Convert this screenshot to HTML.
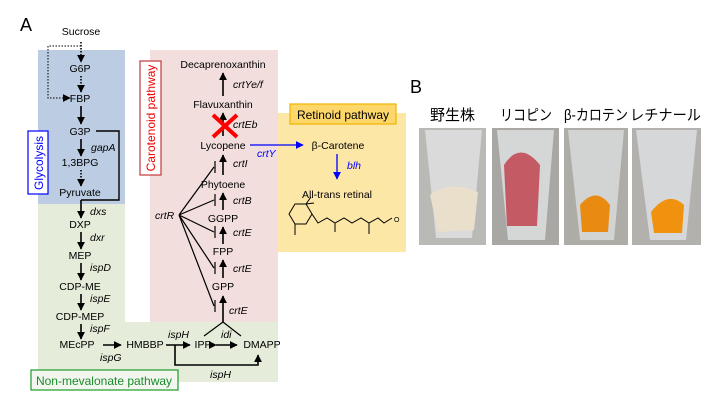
<!DOCTYPE html>
<html><head><meta charset="utf-8"><style>
body{margin:0;background:#fff;}
svg{display:block;font-family:"Liberation Sans","Noto Sans CJK JP",sans-serif;}
</style></head><body>
<svg width="720" height="400" viewBox="0 0 720 400">
<defs>
<marker id="a" viewBox="0 0 10 10" refX="9" refY="5" markerWidth="8" markerHeight="8" markerUnits="userSpaceOnUse" orient="auto"><path d="M0,0L10,5L0,10z" fill="#000"/></marker>
<marker id="b" viewBox="0 0 10 10" refX="9" refY="5" markerWidth="8" markerHeight="8" markerUnits="userSpaceOnUse" orient="auto"><path d="M0,0L10,5L0,10z" fill="#00f"/></marker>
</defs>
<rect x="38" y="50" width="87" height="154" fill="#bccde3"/>
<path d="M38,204H125V322H278V382H38Z" fill="#e5ecd9"/>
<rect x="150" y="50" width="128" height="272" fill="#f2dedd"/>
<rect x="278" y="113" width="128" height="139" fill="#fde7a7"/>
<rect x="28" y="131" width="20" height="63" fill="#fff" stroke="#0000ff" stroke-width="1.2"/>
<text transform="translate(43,163) rotate(-90)" font-size="12" fill="#0000ff" text-anchor="middle">Glycolysis</text>
<rect x="140" y="61" width="21" height="114" fill="#fff" stroke="#c0393b" stroke-width="1.2"/>
<text transform="translate(155,118) rotate(-90)" font-size="12" fill="#e00" text-anchor="middle">Carotenoid pathway</text>
<rect x="290" y="104" width="106" height="20" fill="#fdd769" stroke="#f0b400" stroke-width="1.2"/>
<text x="343" y="119" font-size="12" text-anchor="middle">Retinoid pathway</text>
<rect x="31" y="370" width="147" height="20" fill="#f3f6ee" stroke="#1a9c2a" stroke-width="1.2"/>
<text x="104" y="385" font-size="12" fill="#1a8c2a" text-anchor="middle">Non-mevalonate pathway</text>
<text x="20" y="31" font-size="18">A</text>
<text x="410" y="93" font-size="18">B</text>

<g font-size="10.5" text-anchor="middle">
<text x="81" y="35">Sucrose</text>
<text x="80" y="72">G6P</text>
<text x="80" y="102">FBP</text>
<text x="80" y="135">G3P</text>
<text x="80" y="166">1,3BPG</text>
<text x="80" y="196">Pyruvate</text>
<text x="80" y="228">DXP</text>
<text x="80" y="259">MEP</text>
<text x="80" y="290">CDP-ME</text>
<text x="80" y="320">CDP-MEP</text>
<text x="77" y="348">MEcPP</text>
<text x="145" y="348">HMBBP</text>
<text x="203" y="348">IPP</text>
<text x="262" y="348">DMAPP</text>
<text x="223" y="68">Decaprenoxanthin</text>
<text x="223" y="108">Flavuxanthin</text>
<text x="223" y="149">Lycopene</text>
<text x="223" y="188">Phytoene</text>
<text x="223" y="222">GGPP</text>
<text x="223" y="255">FPP</text>
<text x="223" y="290">GPP</text>
<text x="338" y="149">β-Carotene</text>
<text x="337" y="198">All-trans retinal</text>
</g>
<g font-size="10.5" font-style="italic">
<text x="91" y="151">gapA</text>
<text x="90" y="215">dxs</text>
<text x="90" y="241">dxr</text>
<text x="90" y="271">ispD</text>
<text x="90" y="302">ispE</text>
<text x="90" y="332">ispF</text>
<text x="100" y="361">ispG</text>
<text x="168" y="338">ispH</text>
<text x="221" y="338">idi</text>
<text x="210" y="378">ispH</text>
<text x="233" y="88">crtYe/f</text>
<text x="233" y="128">crtEb</text>
<text x="233" y="167">crtI</text>
<text x="233" y="204">crtB</text>
<text x="233" y="236">crtE</text>
<text x="233" y="272">crtE</text>
<text x="229" y="314">crtE</text>
<text x="155" y="219">crtR</text>
<text x="257" y="157" fill="#00f">crtY</text>
<text x="347" y="169" fill="#00f">blh</text>
</g>

<g stroke="#000" stroke-width="1.6" fill="none">
<line x1="81" y1="42" x2="81" y2="62" stroke-dasharray="1.5,1.5" marker-end="url(#a)"/>
<path d="M81,46H48V98H70" stroke-dasharray="1.5,1.5" stroke-width="1" marker-end="url(#a)"/>
<line x1="81" y1="76" x2="81" y2="92" stroke-dasharray="1.5,1.5" marker-end="url(#a)"/>
<line x1="81" y1="106" x2="81" y2="124" marker-end="url(#a)"/>
<line x1="81" y1="139" x2="81" y2="156" marker-end="url(#a)"/>
<line x1="81" y1="170" x2="81" y2="186" stroke-dasharray="1.5,1.5" marker-end="url(#a)"/>
<path d="M96,131H119V200H81" stroke-width="1.4"/>
<line x1="81" y1="200" x2="81" y2="218" marker-end="url(#a)"/>
<line x1="81" y1="232" x2="81" y2="249" marker-end="url(#a)"/>
<line x1="81" y1="263" x2="81" y2="280" marker-end="url(#a)"/>
<line x1="81" y1="294" x2="81" y2="310" marker-end="url(#a)"/>
<line x1="81" y1="324" x2="81" y2="339" marker-end="url(#a)"/>
<line x1="103" y1="345" x2="121" y2="345" marker-end="url(#a)"/>
<line x1="166" y1="345" x2="190" y2="345" marker-end="url(#a)"/>
<path d="M175,345V365H258V355" marker-end="url(#a)"/>
<line x1="216" y1="345" x2="237" y2="345" marker-end="url(#a)" marker-start="url(#a)"/>
<path d="M204,336L223,322L241,336" stroke-width="1.2"/>
<line x1="223" y1="322" x2="223" y2="296" marker-end="url(#a)"/>
<line x1="223" y1="278" x2="223" y2="260" marker-end="url(#a)"/>
<line x1="223" y1="244" x2="223" y2="227" marker-end="url(#a)"/>
<line x1="223" y1="210" x2="223" y2="193" marker-end="url(#a)"/>
<line x1="223" y1="175" x2="223" y2="155" marker-end="url(#a)"/>
<line x1="223" y1="136" x2="223" y2="113" marker-end="url(#a)"/>
<line x1="223" y1="96" x2="223" y2="73" marker-end="url(#a)"/>
<g stroke-width="1.2">
<path d="M179,215L214,167M179,215L214,200M179,215L214,232M179,215L214,268M179,215L214,306"/>
<path d="M215,161V173M215,194V206M215,226V238M215,262V274M215,300V312"/>
</g>
<line x1="250" y1="145" x2="303" y2="145" stroke="#00f" stroke-width="1.3" marker-end="url(#b)"/>
<line x1="337" y1="154" x2="337" y2="179" stroke="#00f" stroke-width="1.3" marker-end="url(#b)"/>
<g stroke-width="1">
<path d="M295,204L306,204L312,214L306,224L295,224L289,214Z"/>
<path d="M295,224V235M306,204L311,197M306,204L314,203"/>
<path d="M312,214L318,223L327,218L335,223L344,218L352,223L361,218L369,223L378,218L384,223L392,218"/>
<path d="M335,223V232M369,223V234"/>
</g>
</g>
<text x="394" y="222" font-size="7">O</text>
<path d="M213,115L237,137M237,115L213,137" stroke="#f00" stroke-width="4"/>

<g font-size="15">
<text x="430" y="120" textLength="45" lengthAdjust="spacingAndGlyphs">野生株</text>
<text x="500" y="120" textLength="52" lengthAdjust="spacingAndGlyphs">リコピン</text>
<text x="564" y="120" textLength="64" lengthAdjust="spacingAndGlyphs">β-カロテン</text>
<text x="630" y="120" textLength="71" lengthAdjust="spacingAndGlyphs">レチナール</text>
</g>
<rect x="419" y="128" width="67" height="117" fill="#b9b9b6"/>
<path d="M425,130L482,130L472,238L436,238Z" fill="#d9dad9"/>
<path d="M430,195Q450,180 478,192L474,230L438,232Z" fill="#e9dfca"/>
<rect x="492" y="128" width="67" height="117" fill="#a8a7a3"/>
<path d="M497,130L554,130L545,240L508,240Z" fill="#d5d6d6"/>
<path d="M504,165Q520,140 540,165L537,226L507,226Z" fill="#c45a63"/>
<rect x="564" y="128" width="64" height="117" fill="#aeaca7"/>
<path d="M568,130L624,130L614,240L580,240Z" fill="#d2d3d3"/>
<path d="M580,205Q596,186 610,205L608,232L582,232Z" fill="#e98b10"/>
<rect x="632" y="128" width="69" height="117" fill="#b2b1ae"/>
<path d="M636,130L697,130L686,240L650,240Z" fill="#d6d7d8"/>
<path d="M651,212Q668,190 684,205L682,233L654,233Z" fill="#f0920e"/>
</svg>
</body></html>
